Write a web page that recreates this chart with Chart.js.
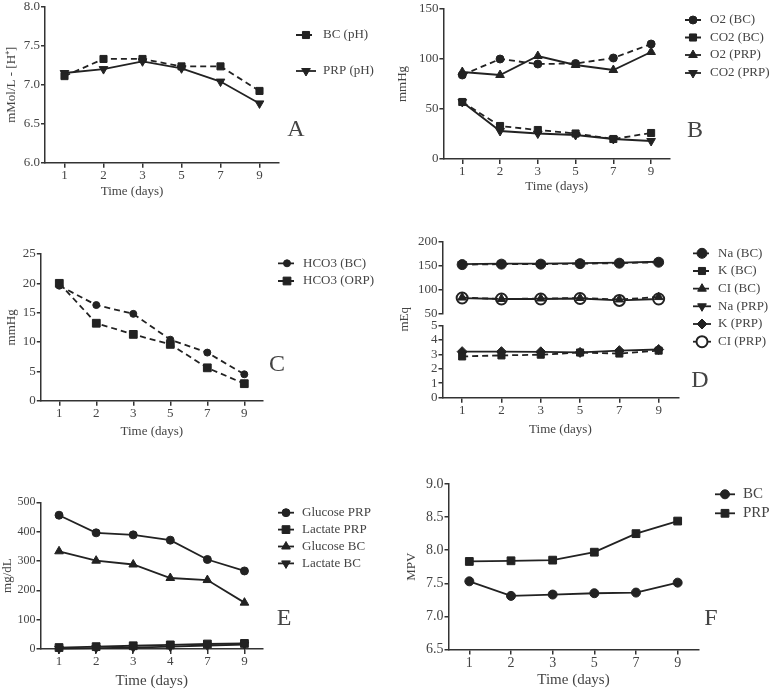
<!DOCTYPE html>
<html><head><meta charset="utf-8">
<script src="https://cdn.jsdelivr.net/npm/chart.js@4/dist/chart.umd.min.js"></script>
<style>
html,body{margin:0;padding:0;background:#fff;width:771px;height:689px;overflow:hidden;position:relative;}
canvas{position:absolute;}
.letter{position:absolute;font-family:'Liberation Serif','Times New Roman',serif;font-size:24px;color:#444;transform:translate(-50%,-50%);line-height:1;}
</style></head><body>
<canvas id="cA"></canvas><canvas id="cB"></canvas><canvas id="cC"></canvas>
<canvas id="cD"></canvas><canvas id="cE"></canvas><canvas id="cF"></canvas>
<div class="letter" style="left:296px;top:128px">A</div>
<div class="letter" style="left:695px;top:129px">B</div>
<div class="letter" style="left:277px;top:363px">C</div>
<div class="letter" style="left:700px;top:379px">D</div>
<div class="letter" style="left:284px;top:617px">E</div>
<div class="letter" style="left:711px;top:617px">F</div>
<script>
// ---------- data ----------
const days = ['1', '2', '3', '5', '7', '9'];
const daysE = ['1', '2', '3', '4', '7', '9'];
const xTitle = 'Time (days)';

const seriesA = ['BC (pH)', 'PRP (pH)'];
const phBC = [7.11, 7.33, 7.33, 7.235, 7.235, 6.92];
const phPRP = [7.15, 7.20, 7.30, 7.21, 7.04, 6.76];
const ticksA = [6.0, 6.5, 7.0, 7.5, 8.0];

const seriesB = ['O2 (BC)', 'CO2 (BC)', 'O2 (PRP)', 'CO2 (PRP)'];
const o2BC = [84, 100, 95, 95.5, 101, 115];
const co2BC = [57, 33, 29, 25.5, 20, 26];
const o2PRP = [87, 84, 103, 94, 89, 107];
const co2PRP = [57, 28, 25.5, 24, 20, 18];
const ticksB = [0, 50, 100, 150];

const seriesC = ['HCO3 (BC)', 'HCO3 (ORP)'];
const hco3BC = [19.6, 16.3, 14.8, 10.4, 8.2, 4.5];
const hco3ORP = [20.0, 13.2, 11.3, 9.6, 5.6, 2.9];
const ticksC = [0, 5, 10, 15, 20, 25];

const seriesD = ['Na (BC)', 'K (BC)', 'CI (BC)', 'Na (PRP)', 'K (PRP)', 'CI (PRP)'];
const naBC = [152, 153, 153, 154, 155, 157];
const kBC = [2.85, 2.92, 2.97, 3.12, 3.05, 3.25];
const clBC = [83, 80, 81, 82, 79, 84];
const naPRP = [153, 154, 154, 155, 156, 158];
const kPRP = [3.18, 3.18, 3.17, 3.13, 3.25, 3.33];
const clPRP = [82, 80, 80, 81, 77, 80];
const ticksDHigh = [50, 100, 150, 200];
const ticksDLow = [0, 1, 2, 3, 4, 5];

const seriesE = ['Glucose PRP', 'Lactate PRP', 'Glucose BC', 'Lactate BC'];
const glucosePRP = [456, 396, 389, 371, 305, 266];
const lactatePRP = [5, 8, 11, 14, 17, 19];
const glucoseBC = [333, 301, 288, 242, 235, 158];
const lactateBC = [1, 3, 5, 8, 12, 15];
const ticksE = [0, 100, 200, 300, 400, 500];

const seriesF = ['BC', 'PRP'];
const mpvBC = [7.53, 7.31, 7.33, 7.35, 7.36, 7.51];
const mpvPRP = [7.83, 7.84, 7.85, 7.97, 8.25, 8.44];
const ticksF = [6.5, 7.0, 7.5, 8.0, 8.5, 9.0];

// ---------- styling ----------
const FONT = "'Liberation Serif', 'Times New Roman', serif";
const INK = '#222', AXIS = '#333', TEXT = '#444';
const DASH = [6, 4];

function ds(label, data, style, r, dashed, extra) {
  return Object.assign({
    label, data, borderColor: INK, backgroundColor: INK, borderWidth: 1.8,
    borderDash: dashed ? DASH : [], pointStyle: style, pointRadius: r, pointHoverRadius: r,
    pointBackgroundColor: INK, pointBorderColor: INK, pointBorderWidth: 1,
    pointRotation: 0, tension: 0, clip: false, fill: false
  }, extra || {});
}

const lineLegend = {
  id: 'lineLegend',
  afterDraw(chart, args, o) {
    const ctx = chart.ctx;
    ctx.save();
    if (o.rows) {
      chart.data.datasets.forEach((d, i) => {
        const y = o.rows[i];
        if (y === undefined) return;
        ctx.strokeStyle = d.borderColor; ctx.lineWidth = d.borderWidth;
        ctx.setLineDash(d.borderDash || []);
        ctx.beginPath(); ctx.moveTo(o.x1, y); ctx.lineTo(o.x2, y); ctx.stroke();
        ctx.setLineDash([]);
        ctx.fillStyle = d.pointBackgroundColor; ctx.strokeStyle = d.pointBorderColor;
        ctx.lineWidth = d.pointBorderWidth;
        Chart.helpers.drawPoint(ctx, {pointStyle: d.pointStyle, rotation: d.pointRotation || 0,
          radius: d.pointRadius, borderWidth: d.pointBorderWidth}, (o.x1 + o.x2) / 2, y);
        ctx.fillStyle = TEXT; ctx.font = o.size + 'px ' + FONT;
        ctx.textBaseline = 'middle'; ctx.textAlign = 'left';
        ctx.fillText(d.label, o.tx, y);
      });
    }
    if (o.xTitle) {
      ctx.fillStyle = TEXT; ctx.font = o.xTitle.size + 'px ' + FONT;
      ctx.textBaseline = 'middle'; ctx.textAlign = 'center';
      ctx.fillText(o.xTitle.text, o.xTitle.x, o.xTitle.y);
    }
    ctx.restore();
  }
};

function yScale(p, tickVals, yW, dec, extra) {
  return Object.assign({
    type: 'linear', position: 'left',
    min: tickVals[0], max: tickVals[tickVals.length - 1],
    afterBuildTicks: s => { s.ticks = tickVals.map(v => ({value: v})); },
    afterFit: s => { s.width = yW; s.paddingTop = 0; s.paddingBottom = 0; },
    border: {display: true, color: AXIS, width: 1.5},
    grid: {display: true, drawOnChartArea: false, drawTicks: true, tickLength: 4, color: AXIS, lineWidth: 1.5},
    ticks: {color: TEXT, font: {family: FONT, size: p.yTickSize}, padding: 1, autoSkip: false,
      callback: v => Number(v).toFixed(dec)},
    title: {display: false}
  }, extra || {});
}

function makePanel(p) {
  const cv = document.getElementById(p.id);
  cv.width = p.w; cv.height = p.h;
  cv.style.left = p.x + 'px'; cv.style.top = p.y + 'px';
  cv.style.width = p.w + 'px'; cv.style.height = p.h + 'px';
  const L = p.area.l - p.x, R = p.area.r - p.x, T = p.area.t - p.y, B = p.area.b - p.y;
  const ylh = p.yTitleSize * 1.2;
  const pl = Math.max(0, p.yTitleX - p.x - ylh / 2);
  const yW = L - pl;
  const xlh = p.xTitleSize * 1.2;
  const xH = p.h - B;
  const xPadB = Math.max(0, (p.y + p.h) - p.xTitleY - xlh / 2);
  const scales = {
    x: {
      type: 'category', labels: p.labels, offset: true, position: 'bottom',
      afterFit: s => { s.height = xH; s.paddingLeft = 0; s.paddingRight = 0; },
      border: {display: true, color: AXIS, width: 1.5},
      grid: {display: true, drawOnChartArea: false, drawTicks: true, tickLength: 5, color: AXIS, lineWidth: 1.5},
      ticks: {color: TEXT, font: {family: FONT, size: p.xTickSize}, padding: 0, autoSkip: false, maxRotation: 0},
      title: p.xTitleX ? {display: false} : {display: true, text: xTitle, color: TEXT,
        font: {family: FONT, size: p.xTitleSize}, padding: {top: 0, bottom: xPadB}}
    }
  };
  const yTitleOpt = {display: true, text: p.yTitle, color: TEXT,
    font: {family: FONT, size: p.yTitleSize}, padding: {top: 0, bottom: 0}};
  p.yScales(scales, yW, yTitleOpt);
  const legendOpts = {
    x1: p.legend.x1 - p.x, x2: p.legend.x2 - p.x, tx: p.legend.tx - p.x,
    rows: p.legend.rows.map(v => v - p.y), size: p.legend.size
  };
  if (p.xTitleX) {
    legendOpts.xTitle = {text: xTitle, x: p.xTitleX - p.x, y: p.xTitleY - p.y, size: p.xTitleSize};
  }
  new Chart(cv, {
    type: 'line',
    data: {labels: p.labels, datasets: p.datasets},
    options: {
      responsive: false, animation: false, devicePixelRatio: 1,
      layout: {padding: {left: pl, top: T, right: p.w - R, bottom: 0}},
      plugins: {legend: {display: false}, tooltip: {enabled: false}, title: {display: false},
        lineLegend: legendOpts},
      scales
    },
    plugins: [lineLegend]
  });
}

const base = {yTitleSize: 13, xTitleSize: 13, yTickSize: 13, xTickSize: 13};

// A
makePanel(Object.assign({}, base, {
  id: 'cA', x: 0, y: 0, w: 385, h: 215,
  area: {l: 45, r: 279, t: 6.7, b: 162.7},
  yTitle: 'mMol/L - [H\u207A]', yTitleX: 12, xTitleY: 192, xTitleX: 132,
  labels: days,
  datasets: [
    ds(seriesA[0], phBC, 'rect', 5, true),
    ds(seriesA[1], phPRP, 'triangle', 5, false, {pointRotation: 180})
  ],
  yScales: (s, yW, t) => { s.y = yScale(base, ticksA, yW, 1, {title: t}); },
  legend: {x1: 296, x2: 316, tx: 323, rows: [35, 71], size: 13}
}));

// B
makePanel(Object.assign({}, base, {
  id: 'cB', x: 385, y: 0, w: 386, h: 215,
  area: {l: 443.4, r: 670, t: 9, b: 159},
  yTitle: 'mmHg', yTitleX: 403, xTitleY: 187,
  labels: days,
  datasets: [
    ds(seriesB[0], o2BC, 'circle', 4, true),
    ds(seriesB[1], co2BC, 'rect', 5, true),
    ds(seriesB[2], o2PRP, 'triangle', 5, false),
    ds(seriesB[3], co2PRP, 'triangle', 5, false, {pointRotation: 180})
  ],
  yScales: (s, yW, t) => { s.y = yScale(base, ticksB, yW, 0, {title: t}); },
  legend: {x1: 685, x2: 701, tx: 710, rows: [20, 37.5, 55, 73], size: 13}
}));

// C
makePanel(Object.assign({}, base, {
  id: 'cC', x: 0, y: 225, w: 385, h: 225,
  area: {l: 40.8, r: 262.8, t: 254, b: 400.7},
  yTitle: 'mmHg', yTitleX: 12, xTitleY: 431.7,
  labels: days,
  datasets: [
    ds(seriesC[0], hco3BC, 'circle', 3.5, true),
    ds(seriesC[1], hco3ORP, 'rect', 5.5, true)
  ],
  yScales: (s, yW, t) => { s.y = yScale(base, ticksC, yW, 0, {title: t}); },
  legend: {x1: 278, x2: 296, tx: 303, rows: [263.3, 281], size: 13}
}));

// D (broken axis: stacked y scales)
makePanel(Object.assign({}, base, {
  id: 'cD', x: 385, y: 225, w: 386, h: 225,
  area: {l: 442.5, r: 678.3, t: 241.7, b: 397.7},
  yTitle: 'mEq', yTitleX: 405, xTitleY: 430,
  labels: days,
  datasets: [
    ds(seriesD[0], naBC, 'circle', 5, true, {yAxisID: 'yHigh'}),
    ds(seriesD[1], kBC, 'rect', 5, true, {yAxisID: 'yLow'}),
    ds(seriesD[2], clBC, 'triangle', 5, true, {yAxisID: 'yHigh'}),
    ds(seriesD[3], naPRP, 'triangle', 5, false, {yAxisID: 'yHigh', pointRotation: 180}),
    ds(seriesD[4], kPRP, 'rectRot', 5, false, {yAxisID: 'yLow'}),
    ds(seriesD[5], clPRP, 'circle', 5.5, false, {yAxisID: 'yHigh', pointBackgroundColor: '#fff', pointBorderWidth: 2})
  ],
  yScales: (s, yW, t) => {
    s.yLow = yScale(base, ticksDLow, yW, 0, {stack: 'd', stackWeight: 72.4});
    s.yGap = {
      type: 'linear', position: 'left', stack: 'd', stackWeight: 12, min: 0, max: 1,
      afterFit: sc => { sc.width = yW; sc.paddingTop = 0; sc.paddingBottom = 0; },
      border: {display: false}, grid: {display: false}, ticks: {display: false},
      title: t
    };
    s.yHigh = yScale(base, ticksDHigh, yW, 0, {stack: 'd', stackWeight: 71.6});
  },
  legend: {x1: 693, x2: 711, tx: 718, rows: [253.3, 271, 288.7, 306.3, 324, 341.7], size: 13}
}));

// E
makePanel(Object.assign({}, base, {
  id: 'cE', x: 0, y: 470, w: 385, h: 225,
  area: {l: 40.5, r: 263, t: 502.3, b: 649},
  yTitle: 'mg/dL', yTitleX: 8, xTitleY: 680.7, xTitleSize: 15, yTickSize: 12,
  labels: daysE,
  datasets: [
    ds(seriesE[0], glucosePRP, 'circle', 4, false),
    ds(seriesE[1], lactatePRP, 'rect', 5.5, false),
    ds(seriesE[2], glucoseBC, 'triangle', 5, false),
    ds(seriesE[3], lactateBC, 'triangle', 5, false, {pointRotation: 180})
  ],
  yScales: (s, yW, t) => { s.y = yScale({yTickSize: 12}, ticksE, yW, 0, {title: t}); },
  legend: {x1: 278, x2: 294, tx: 302, rows: [512.7, 529.6, 546.5, 563.4], size: 13}
}));

// F
makePanel(Object.assign({}, base, {
  id: 'cF', x: 385, y: 470, w: 386, h: 225,
  area: {l: 448.5, r: 698.5, t: 484, b: 649.5},
  yTitle: 'MPV', yTitleX: 411.7, xTitleY: 680, xTitleSize: 15, yTickSize: 14, xTickSize: 14,
  labels: days,
  datasets: [
    ds(seriesF[0], mpvBC, 'circle', 4.5, false),
    ds(seriesF[1], mpvPRP, 'rect', 5.5, false)
  ],
  yScales: (s, yW, t) => { s.y = yScale({yTickSize: 14}, ticksF, yW, 1, {title: t}); },
  legend: {x1: 715, x2: 735, tx: 743, rows: [494.3, 513.3], size: 15}
}));
</script>
</body></html>
